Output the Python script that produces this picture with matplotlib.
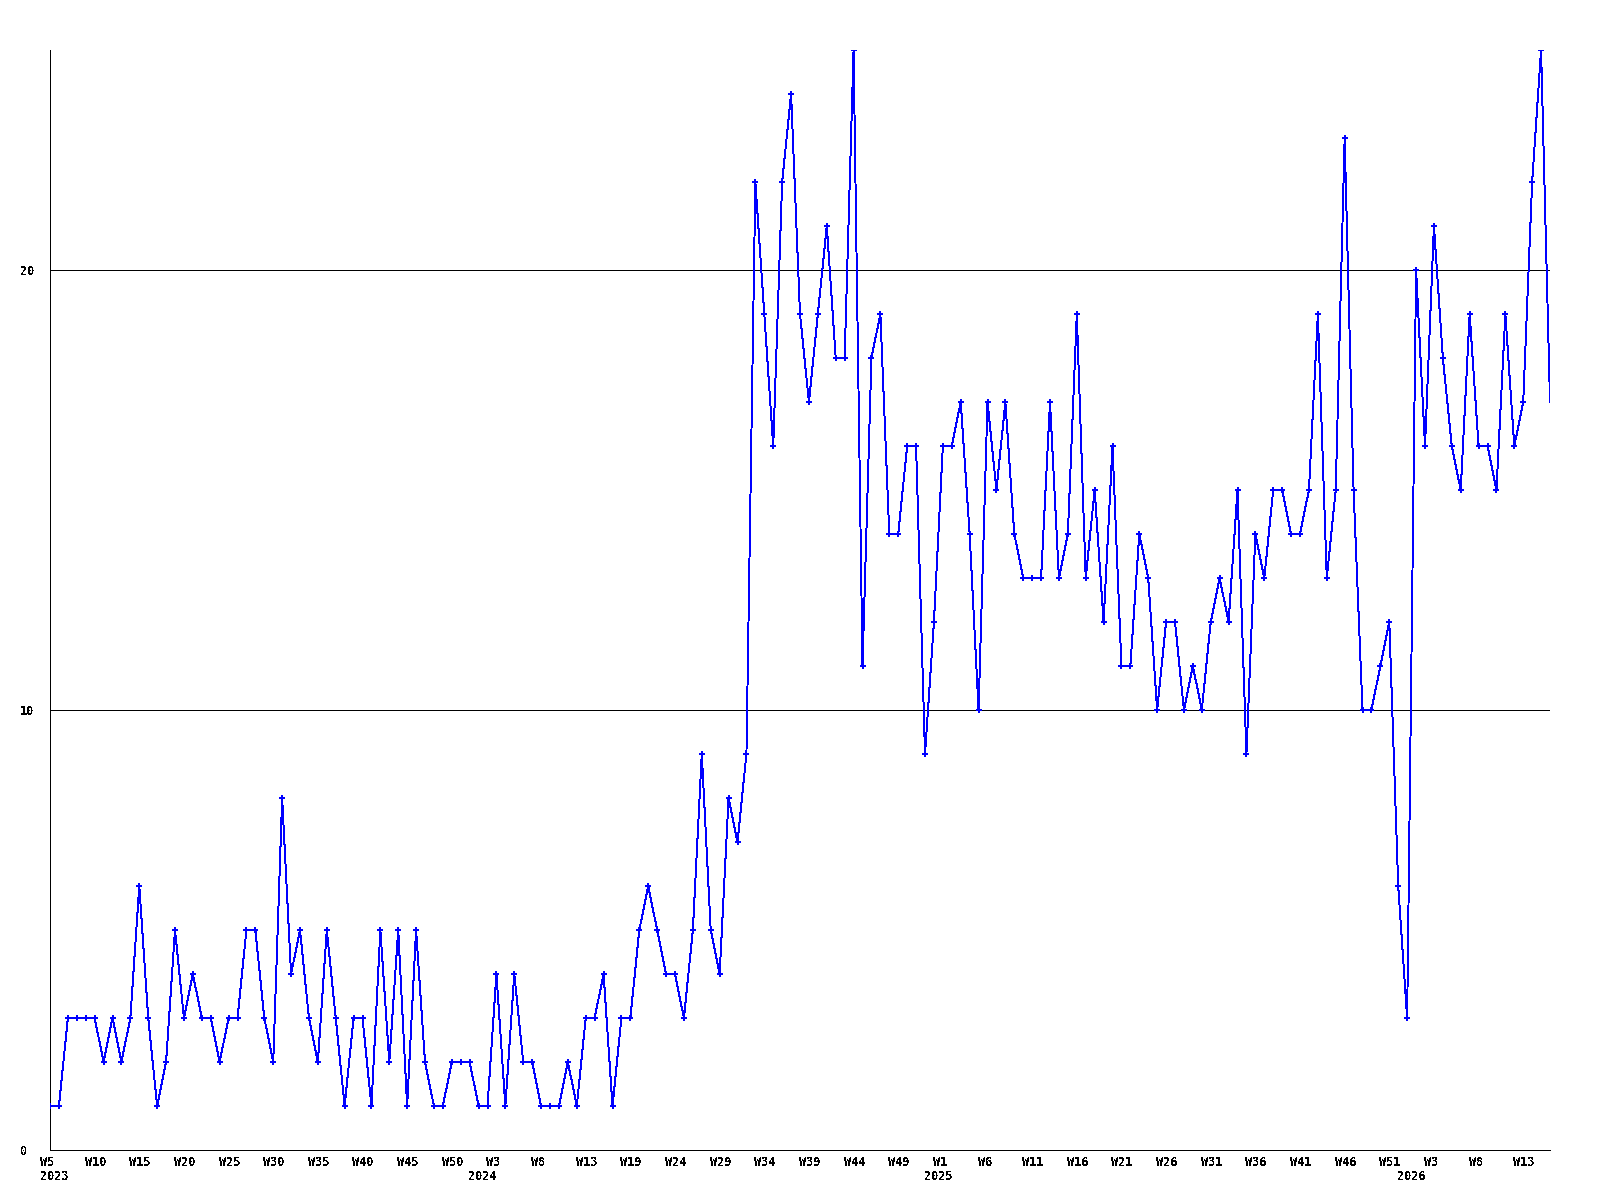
"""Weekly counts 2023 W5 - 2026, line chart with bitmap-style labels."""

import matplotlib

matplotlib.use("Agg")
import matplotlib.pyplot as plt
import matplotlib.transforms as mtransforms
import numpy as np

# weekly values, first point is 2023 W5
counts = [
    1, 1, 3, 3, 3, 3, 2, 3, 2, 3, 6, 3, 1, 2, 5, 3, 4, 3, 3, 2,
    3, 3, 5, 5, 3, 2, 8, 4, 5, 3, 2, 5, 3, 1, 3, 3, 1, 5, 2, 5,
    1, 5, 2, 1, 1, 2, 2, 2, 1, 1, 4, 1, 4, 2, 2, 1, 1, 1, 2, 1,
    3, 3, 4, 1, 3, 3, 5, 6, 5, 4, 4, 3, 5, 9, 5, 4, 8, 7, 9, 22,
    19, 16, 22, 24, 19, 17, 19, 21, 18, 18, 25, 11, 18, 19, 14, 14, 16, 16, 9, 12,
    16, 16, 17, 14, 10, 17, 15, 17, 14, 13, 13, 13, 17, 13, 14, 19, 13, 15, 12, 16,
    11, 11, 14, 13, 10, 12, 12, 10, 11, 10, 12, 13, 12, 15, 9, 14, 13, 15, 15, 14,
    14, 15, 19, 13, 15, 23, 15, 10, 10, 11, 12, 6, 3, 20, 16, 21, 18, 16, 15, 19,
    16, 16, 15, 19, 16, 17, 22, 25, 17,
]

week_ticks = list(range(0, 166, 5))
week_labels = [
    "W5", "W10", "W15", "W20", "W25", "W30", "W35", "W40", "W45", "W50",
    "W3", "W8", "W13", "W19", "W24", "W29", "W34", "W39", "W44", "W49",
    "W1", "W6", "W11", "W16", "W21", "W26", "W31", "W36", "W41", "W46",
    "W51", "W3", "W8", "W13",
]
year_ticks = [0, 48, 99, 152]
year_labels = ["2023", "2024", "2025", "2026"]
y_ticks = [0, 10, 20]

BLUE = "#0000ff"
FONT = dict(family="DejaVu Sans Mono", weight="bold", size=8.5)
LW = 0.7

plt.rcParams["text.antialiased"] = False

fig = plt.figure(figsize=(16, 12), dpi=100)
ax = fig.add_axes([50 / 1600, 50 / 1200, 1500 / 1600, 1100 / 1200])

x = np.arange(len(counts))
ax.plot(x, counts, color=BLUE, lw=LW, marker="P", ms=4.6, mew=0,
        markevery=slice(0, len(counts) - 1), antialiased=False, zorder=3)

ax.set_xlim(0, len(counts) - 1)
ax.set_ylim(0, 25)

for side in ("top", "right"):
    ax.spines[side].set_visible(False)
for side in ("left", "bottom"):
    ax.spines[side].set_linewidth(LW)
    ax.spines[side].set_color("black")
    ax.spines[side].set_antialiased(False)

ax.set_yticks(y_ticks, [str(v) for v in y_ticks])
ax.yaxis.grid(True, color="black", lw=LW, antialiased=False)
ax.tick_params(axis="y", length=0, pad=21.5)
for lab in ax.get_yticklabels():
    lab.set_ha("left")
    lab.set_fontfamily(FONT["family"])
    lab.set_fontweight(FONT["weight"])
    lab.set_fontsize(FONT["size"])

ax.set_xticks([])
shift = mtransforms.ScaledTranslation(-10 / 100, 0, fig.dpi_scale_trans)
trans = mtransforms.blended_transform_factory(ax.transData, fig.transFigure) + shift
for pos, lab in zip(week_ticks, week_labels):
    ax.text(pos, 1 - 1162 / 1200, lab, transform=trans, ha="left", va="center",
            clip_on=False, **FONT)
for pos, lab in zip(year_ticks, year_labels):
    ax.text(pos, 1 - 1177 / 1200, lab, transform=trans, ha="left", va="center",
            clip_on=False, **FONT)

fig.savefig("out.png", dpi=100)
